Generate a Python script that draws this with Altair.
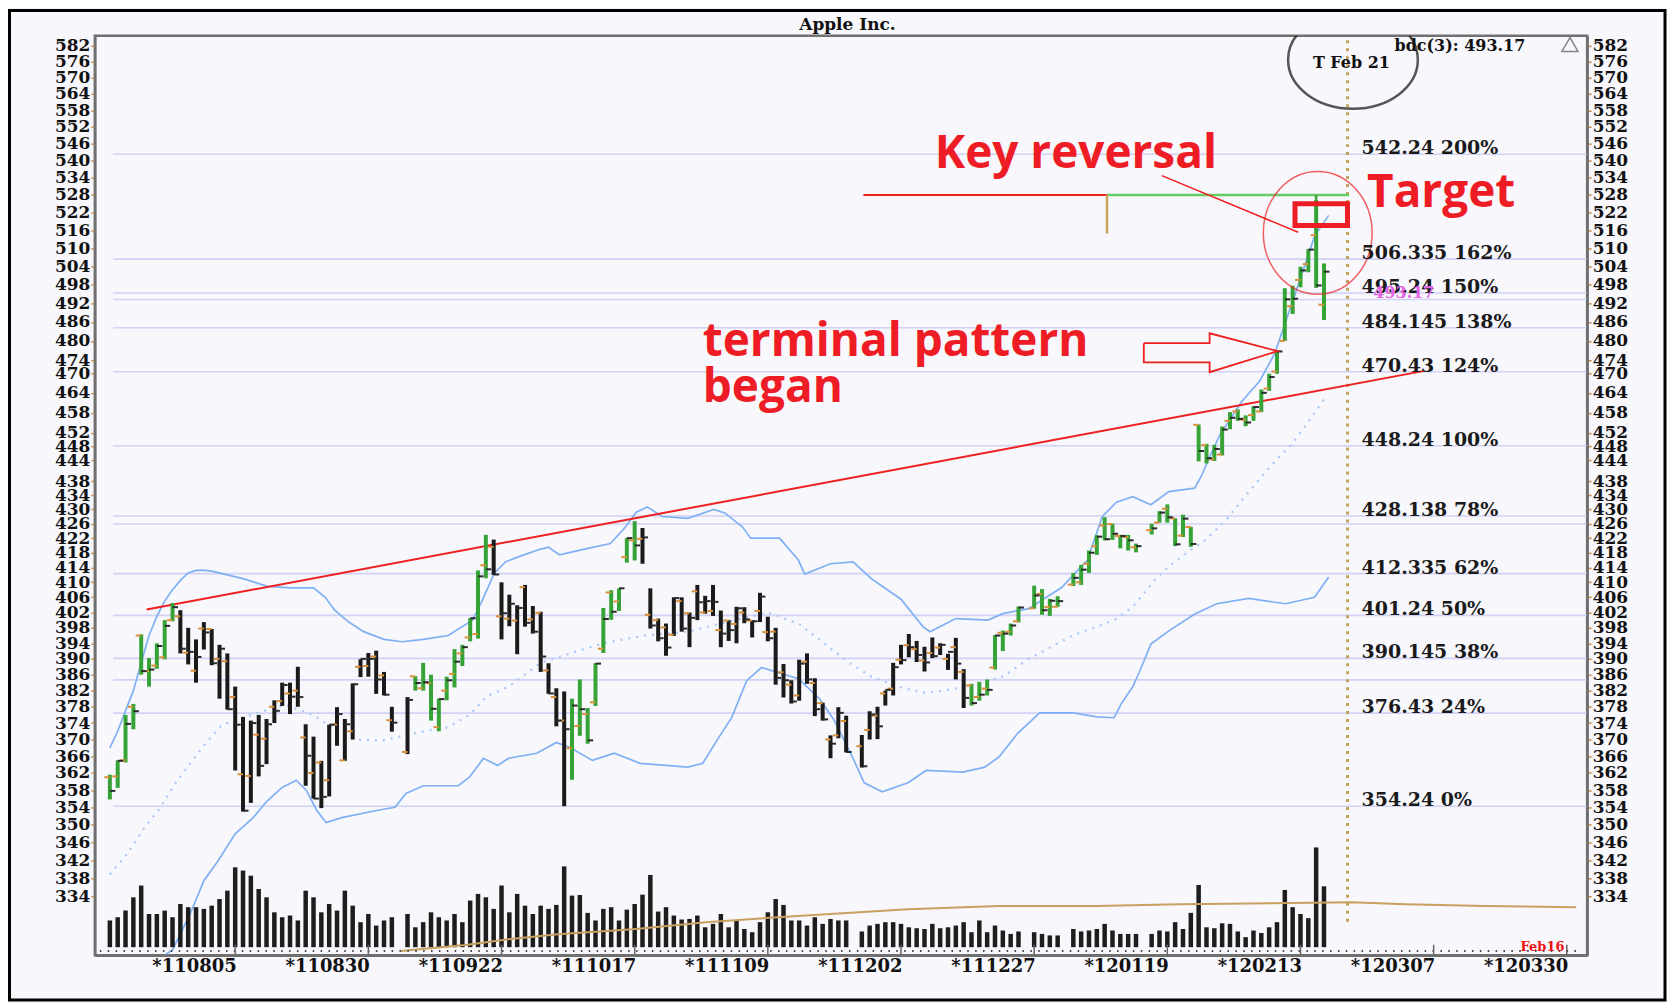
import altair as alt
import numpy as np
import pandas as pd

# ---------------- data ----------------
first_day = "2011-07-14"
last_day = "2012-02-16"
holidays = ["2011-09-05", "2011-11-24", "2011-12-26", "2012-01-02", "2012-01-16"]
anchor_day = "2011-08-05"

opens = [361.0, 361.2, 365.0, 378.0, 396.0, 386.9, 388.3, 390.4, 400.0, 401.0, 391.6, 387.0,
         397.8, 397.7, 390.0, 389.4, 380.4, 361.7, 361.3, 371.2, 370.2, 378.0, 379.4, 381.3, 382.0, 370.5, 362.0, 364.5, 360.3, 373.6, 365.0, 372.0, 388.0, 388.2, 390.6,
         385.8, 374.7, 367.0, 385.6, 382.6, 383.9, 373.0, 382.0, 386.2, 391.4, 395.5, 396.4, 414.6, 419.6, 401.0, 400.4, 399.9, 408.7, 400.2, 401.9, 387.1,
         380.4, 374.6, 367.9, 373.3, 376.2, 379.1, 392.6, 407.3, 404.9, 416.8, 421.4, 421.8, 401.4, 400.0, 398.1, 396.2, 405.0, 401.8, 407.6, 402.0, 402.4,
         397.4, 399.9, 399.0, 402.0, 399.9, 402.4, 396.9, 397.0, 386.6, 383.5, 380.8, 389.3, 383.9, 378.9, 370.0, 371.0, 374.5, 368.4, 372.3, 375.8, 381.3,
         382.5, 389.8, 393.5, 392.5, 389.6, 391.5, 392.9, 390.0, 393.0, 386.7, 383.3, 380.4, 382.5, 387.8, 396.7, 397.0, 399.7, 403.1, 406.9, 403.4, 403.5,
         409.4, 410.0, 415.0, 419.8, 425.5, 425.9, 422.6, 422.3, 419.5, 424.2, 426.3, 430.2, 427.5, 422.7, 425.1, 454.4, 448.4, 444.3, 445.7, 455.6,
         458.4, 455.9, 457.3, 458.4, 465.3, 470.5, 480.0, 491.0, 499.5, 504.7, 514.3, 491.5]
highs = [361.6, 365.0, 376.0, 378.7, 396.3, 390.2, 394.0, 400.0, 404.5, 402.6, 398.0, 395.0,
         399.5, 397.7, 393.6, 391.4, 383.0, 375.5, 374.6, 376.0, 375.0, 379.6, 384.0, 384.0, 388.0, 373.7, 370.7, 364.9, 373.6, 377.9, 375.0, 383.8, 389.9, 391.5, 392.1,
         386.7, 378.0, 380.4, 385.6, 389.0, 386.0, 380.0, 385.5, 392.5, 393.6, 400.5, 413.2, 422.9, 421.6, 410.0, 406.7, 403.9, 409.3, 403.7, 402.2, 388.9,
         382.6, 381.8, 380.0, 384.8, 377.7, 388.9, 403.2, 407.9, 408.4, 422.0, 426.7, 424.8, 408.4, 400.4, 399.1, 406.0, 406.0, 402.0, 409.3, 406.4, 409.3,
         402.5, 400.0, 403.5, 403.4, 400.0, 407.2, 400.9, 398.0, 388.7, 384.6, 389.8, 391.4, 385.1, 379.0, 371.0, 377.9, 375.8, 371.1, 376.9, 378.0, 382.0,
         389.0, 393.6, 396.4, 394.6, 393.1, 395.5, 394.0, 391.3, 395.4, 387.4, 383.7, 384.2, 384.8, 396.1, 397.3, 399.1, 403.6, 409.1, 408.2, 405.6, 406.3,
         412.5, 414.7, 418.6, 422.8, 427.8, 426.0, 422.9, 422.9, 420.5, 426.0, 429.5, 431.4, 427.5, 428.5, 425.1, 454.5, 448.8, 448.5, 453.9, 458.2,
         459.0, 457.2, 460.0, 465.0, 469.8, 476.8, 496.8, 497.6, 503.8, 509.6, 526.3, 504.9]
lows = [355.8, 358.5, 364.5, 372.5, 386.0, 383.0, 387.5, 389.9, 399.7, 391.4, 388.6, 384.0,
        392.4, 388.4, 380.0, 377.3, 362.6, 353.0, 355.0, 361.2, 364.1, 374.0, 378.2, 376.2, 378.0, 359.0, 356.0, 353.8, 356.5, 368.5, 364.9, 370.0, 385.4, 385.5, 381.2,
        380.8, 371.9, 366.5, 382.0, 382.0, 374.6, 372.0, 379.6, 382.8, 388.2, 394.5, 395.2, 411.1, 412.0, 395.0, 398.4, 391.2, 398.3, 396.5, 386.7, 381.2,
        373.2, 354.24, 360.4, 370.9, 369.0, 378.2, 391.5, 400.1, 402.4, 415.3, 415.9, 415.0, 397.8, 394.5, 390.8, 395.9, 397.0, 393.0, 400.0, 401.7, 401.1,
        393.0, 394.6, 394.0, 399.2, 395.5, 399.5, 394.5, 383.5, 380.3, 378.8, 379.5, 383.7, 375.7, 374.6, 365.5, 370.3, 366.9, 363.3, 370.0, 370.1, 378.3,
        380.8, 388.6, 390.4, 389.2, 386.8, 390.2, 391.0, 387.2, 384.8, 377.7, 378.3, 379.5, 380.8, 387.3, 392.0, 396.0, 399.4, 403.0, 401.4, 401.1, 403.5,
        409.0, 409.3, 412.5, 417.4, 421.4, 421.5, 419.2, 418.6, 418.1, 423.0, 426.3, 426.3, 419.8, 422.3, 419.6, 443.7, 443.1, 443.8, 445.4, 453.1,
        455.6, 454.0, 455.6, 458.2, 464.6, 469.8, 480.0, 488.5, 497.1, 502.0, 496.9, 486.6]
closes = [357.8, 364.9, 373.8, 376.9, 386.9, 387.3, 393.3, 398.5, 403.4, 392.6, 391.8, 390.5,
          396.8, 388.9, 392.6, 377.4, 373.6, 353.2, 374.0, 363.7, 373.7, 377.0, 383.4, 380.5, 380.4, 366.1, 356.0, 356.4, 373.6, 376.2, 373.7, 383.6, 390.0, 390.0, 384.8,
          381.0, 374.1, 379.7, 383.9, 384.1, 377.5, 379.9, 384.6, 389.3, 393.0, 400.5, 411.6, 413.5, 412.1, 401.8, 404.3, 403.2, 399.3, 397.0, 390.6, 381.3,
          374.6, 372.5, 378.3, 377.4, 369.8, 388.8, 400.3, 402.2, 408.4, 422.0, 420.0, 422.2, 398.6, 395.3, 392.9, 405.8, 397.8, 400.6, 404.7, 405.0, 404.8,
          396.5, 397.4, 403.1, 400.2, 399.7, 406.2, 395.3, 385.2, 384.6, 379.3, 388.8, 384.8, 377.4, 374.9, 369.0, 376.5, 367.0, 363.6, 376.1, 373.2, 382.2,
          387.9, 389.7, 393.0, 391.0, 389.1, 390.7, 393.6, 391.8, 388.8, 380.2, 378.9, 381.0, 382.2, 396.0, 396.5, 398.6, 403.3, 406.5, 402.6, 405.1, 405.0,
          411.2, 413.4, 418.0, 422.4, 421.7, 423.2, 422.6, 421.4, 419.8, 424.7, 429.1, 427.8, 420.3, 427.4, 420.4, 446.7, 444.6, 447.3, 453.0, 456.5,
          456.2, 455.1, 459.7, 464.0, 468.8, 476.7, 493.2, 493.4, 502.6, 509.5, 497.7, 502.2]
volumes = [14.1, 15.8, 19.3, 26.3, 32.5, 17.5, 17.5, 19.3, 15.8, 22.8, 21.1, 21.1,
           20.2, 21.9, 25.4, 29.8, 42.1, 40.4, 37.7, 30.7, 26.3, 18.4, 15.8, 16.7, 14.1, 29.8, 26.3, 18.4, 22.8, 19.3, 29.8, 21.9, 13.2, 17.5, 11.4,
           14.1, 15.8, 17.5, 10.5, 13.2, 18.4, 15.8, 14.1, 17.5, 13.2, 24.6, 28.1, 26.3, 20.2, 32.5, 18.4, 28.1, 21.9, 17.5, 21.9, 20.2,
           22.3, 42.6, 27.2, 27.5, 18.1, 14.1, 20.2, 21.1, 14.1, 19.8, 22.8, 27.7, 38.1, 18.8, 21.1, 16.7, 14.6, 14.9, 16.7, 10.5, 12.3,
           17.5, 10.5, 14.1, 9.6, 7.9, 13.2, 18.4, 25.4, 22.3, 14.1, 14.1, 11.4, 15.8, 12.3, 14.9, 14.1, 14.1, 8.3, 11.4, 12.3, 13.2,
           13.2, 12.3, 10.5, 10.0, 9.6, 12.3, 10.0, 10.5, 11.4, 13.2, 7.9, 14.1, 7.9, 11.4, 8.8, 7.0, 8.3, 7.9, 7.0, 6.2, 6.2,
           9.6, 8.3, 8.8, 9.6, 12.3, 8.8, 7.0, 7.0, 7.0, 7.0, 8.8, 8.3, 13.2, 9.6, 18.1, 32.8, 10.5, 10.0, 12.6, 12.3,
           8.3, 5.3, 8.8, 7.5, 10.5, 13.2, 30.2, 21.1, 17.5, 15.3, 52.6, 32.1]
up_periods = [("2011-07-14", "2011-07-26"), ("2011-09-07", "2011-09-20"),
              ("2011-10-05", "2011-10-17"), ("2011-12-15", "2012-02-16")]

upper_band = [(-16, 368), (-15, 372), (-14, 377), (-13, 382), (-12, 389), (-11, 396), (-10, 401), (-9, 405),
              (-8, 408), (-7, 410.5), (-6, 412.5), (-5, 413.2), (-4, 413.3), (-3, 413), (-1, 412), (1, 411),
              (4, 409), (7, 408.5), (10, 408.5), (11.5, 406), (12.7, 402.6), (14.5, 399.5), (16.4, 397),
              (19, 395), (21.3, 394.4), (24, 395), (27.2, 396), (30.3, 400), (31.5, 405), (33.1, 412.5),
              (34.5, 415.5), (36.3, 417), (39, 419), (40, 419.5), (41.4, 417.4), (44.6, 419), (47.9, 420.5),
              (49.8, 425), (51.2, 429.2), (52.6, 430.7), (54.5, 428), (57.8, 427.5), (61.1, 430), (62.5, 429),
              (64.8, 425), (65.8, 422), (69.5, 422), (71.9, 416), (72.7, 412.2), (76, 415), (78.9, 415.5),
              (81.2, 411), (85, 405.5), (87.8, 398.3), (88.7, 397), (92, 400.4), (96.1, 400), (98, 401.7),
              (101.3, 403), (105.5, 408.6), (108.8, 416), (110.7, 428), (112.5, 432), (114.6, 433.6),
              (116.9, 431.3), (119.2, 435), (122.5, 436), (123.4, 439.7), (124.3, 444.5), (125.7, 451.4),
              (128.5, 461.4), (130.8, 467.6), (132.7, 476), (134.1, 486), (136, 500), (137.8, 514), (139.6, 521)]
lower_band = [(-16, 300), (-12, 310), (-9.4, 321), (-8, 322.5), (-5.8, 330), (-4, 337.4), (-2.2, 341.8),
              (0, 347.9), (2.3, 351.6), (4.1, 355.5), (6, 358.6), (7.8, 360.3), (9.1, 357.9), (10.4, 353.3),
              (11.6, 350.5), (13.6, 351.6), (18.2, 353.3), (20.4, 354), (21.8, 357.2), (24, 359), (28.5, 359),
              (29.9, 361), (31.7, 365.5), (33.5, 363.8), (34.9, 365.5), (38.5, 366.7), (41, 369.3), (42.8, 368),
              (45.6, 365), (48.4, 366.7), (51.7, 364.3), (57.8, 363.4), (59.7, 364.3), (61.5, 369.8),
              (63.4, 375.4), (65.3, 384.5), (67.2, 387.8), (71.9, 385), (74.6, 380), (76.5, 374.6),
              (78.8, 365.8), (80.3, 359.7), (82.6, 357.6), (85.9, 359.7), (88.2, 362.6), (92.9, 362.2),
              (95.7, 363.4), (97.5, 365.8), (99.9, 371.5), (102.7, 376.5), (107, 376.5), (110, 375.5),
              (112.2, 375.3), (113.2, 379), (114.6, 383), (115.5, 387), (116.9, 393.8), (119.2, 397.2),
              (122.5, 401.6), (125.3, 404.3), (129.4, 405.7), (134.1, 404.3), (137.8, 406), (139.6, 411.4)]
middle_band = [(-16, 338.8), (-13.7, 343.6), (-11.7, 349), (-9.6, 353.8), (-7.7, 359.4), (-5.8, 364.2),
               (-3.5, 369.7), (-1.7, 373.5), (0.9, 375.3), (3.7, 377), (6.4, 378.5), (10.1, 375.8),
               (12.7, 372.5), (15.9, 370), (18.6, 369.7), (22.2, 371.2), (24.9, 372.3), (27.2, 373),
               (29.9, 376), (32.2, 380.7), (34.9, 383), (39, 389), (43.7, 392), (47, 394), (52.2, 396),
               (57.8, 397), (63.8, 400), (68, 402), (72, 399), (75.8, 393), (78.4, 389), (81.2, 385.5),
               (85, 382.8), (88.2, 381.4), (92.9, 382.8), (98, 385.5), (101.3, 390), (106.9, 396),
               (112.2, 400), (114.6, 403.5), (117.4, 410.6), (119.2, 414.3), (122, 418.8), (123.9, 421.5),
               (126.6, 427.3), (129.4, 435), (132.2, 442.3), (135, 449), (136.9, 455), (139.2, 462.8)]
volume_avg = [(21.1, -2), (29.4, 1.2), (34.9, 4.2), (41.2, 6.8), (50.8, 9.5), (60.1, 13.2), (71.8, 16.5),
              (85.9, 20), (97.5, 21.7), (109.9, 21.7), (120.6, 22.6), (142.5, 23.7), (149.4, 22.6),
              (159.6, 21.7), (171.2, 21.1)]

fib_values = [542.24, 506.335, 495.24, 484.145, 470.43, 448.24, 428.138, 412.335, 401.24, 390.145, 376.43, 354.24]
fib_labels = ["542.24 200%", "506.335 162%", "495.24 150%", "484.145 138%", "470.43 124%", "448.24 100%",
              "428.138 78%", "412.335 62%", "401.24 50%", "390.145 38%", "376.43 24%", "354.24 0%"]
extra_levels = [493.17, 425.9, 384.7]

axis_ticks = [582, 576, 570, 564, 558, 552, 546, 540, 534, 528, 522, 516, 510, 504, 498, 492, 486, 480, 474,
              470, 464, 458, 452, 448, 444, 438, 434, 430, 426, 422, 418, 414, 410, 406, 402, 398, 394, 390,
              386, 382, 378, 374, 370, 366, 362, 358, 354, 350, 346, 342, 338, 334]
tick_dates = ["2011-08-05", "2011-08-30", "2011-09-22", "2011-10-17", "2011-11-09", "2011-12-02",
              "2011-12-27", "2012-01-19", "2012-02-13", "2012-03-07", "2012-03-30"]
tick_labels = ["*110805", "*110830", "*110922", "*111017", "*111109", "*111202",
               "*111227", "*120119", "*120213", "*120307", "*120330"]

trend_line = [(-11.3, 402.8), (151.8, 470.7)]
target_red = [(80.2, 528.0), (111.3, 528.0)]
target_green = [(111.3, 528.0), (142.2, 528.0)]
arrow_outline = [(116.0, 479.3), (124.4, 479.3), (124.4, 482.4), (133.1, 476.8), (124.4, 470.3),
                 (124.4, 473.3), (116.0, 473.3), (116.0, 479.3)]
pointer_line = [(118.3, 534.7), (135.7, 515.3)]
box = (135.3, 142.0, 517.6, 525.0)
today_idx = 142
notes = [("Key reversal", 89.3, 537.2), ("Target", 144.5, 524.0),
         ("terminal pattern", 59.7, 475.3), ("began", 59.7, 461.2)]
title_text = "Apple Inc."

# ---------------- frames ----------------
d = pd.bdate_range(first_day, last_day)
d = d[~d.isin(pd.to_datetime(holidays))]
day64 = d.values.astype("datetime64[D]")
idx = np.busday_count(np.datetime64(anchor_day), day64)
trend = np.array(["down"] * len(d), dtype=object)
for a, b in up_periods:
    trend[(d >= pd.Timestamp(a)) & (d <= pd.Timestamp(b))] = "up"
bars = pd.DataFrame({"idx": idx, "open": opens, "high": highs, "low": lows, "close": closes,
                     "vol": volumes, "trend": trend})

tick_idx = [int(np.busday_count(np.datetime64(anchor_day), np.datetime64(t))) for t in tick_dates]
label_expr = "[" + ",".join("'%s'" % t for t in tick_labels) + "][round(datum.value/17)]"

XMIN, XMAX = -17.28, 171.96
XS = alt.Scale(domain=[XMIN, XMAX], nice=False, zero=False)
PS = alt.Scale(type="log", domain=[321.4, 585.8], nice=False)
VS = alt.Scale(domain=[0, 60], range=[913, 799], nice=False)

SERIF = "DejaVu Serif"
x_axis = alt.Axis(values=tick_idx, labelExpr=label_expr, title=None, grid=False, tickSize=0,
                  labelFont=SERIF, labelFontWeight="bold", labelFontSize=18, labelColor="#111111",
                  labelAlign="right", labelOffset=1, labelPadding=2, labelOverlap=False, labelFlush=False,
                  domainColor="#707070", domainWidth=2.5, zindex=1)


def X(f):
    return alt.X(f, type="quantitative", scale=XS, axis=x_axis)


def Y(f, axis=None, scale=PS):
    return alt.Y(f, type="quantitative", scale=scale, axis=axis)


def y_axis(side):
    return alt.Axis(orient=side, values=axis_ticks, format="d", title=None, grid=False,
                    labelFont=SERIF, labelFontWeight="bold", labelFontSize=17, labelColor="#111111",
                    labelOverlap=False, labelPadding=1, tickColor="#c8904a", tickSize=4, tickWidth=1.5,
                    domainColor="#707070", domainWidth=2.5, zindex=1)


one = pd.DataFrame({"k": [0]})

outer = alt.Chart(one).mark_rect(fill="transparent", stroke="black", strokeWidth=3).encode(
    x=alt.value(-85.5), x2=alt.value(1573), y=alt.value(-25.5), y2=alt.value(966))
title = alt.Chart(pd.DataFrame({"t": [title_text]})).mark_text(
    align="center", baseline="middle", font=SERIF, fontSize=17, fontWeight="bold", color="#111111").encode(
    x=alt.value(754), y=alt.value(-11), text="t:N")

levels = pd.DataFrame({"level": fib_values + extra_levels, "x0": -15.6, "x1": 180})
fib = alt.Chart(levels).mark_rule(color="#d2d2f6", strokeWidth=1.6, clip=True).encode(
    x=X("x0"), x2="x1", y=Y("level", y_axis("left")))


def band(pairs, **kw):
    df = pd.DataFrame(pairs, columns=["i", "v"])
    return alt.Chart(df).mark_line(clip=True, **kw).encode(x=X("i"), y=Y("v"))


upper = band(upper_band, color="#7fb0f4", strokeWidth=1.7)
lower = band(lower_band, color="#7fb0f4", strokeWidth=1.7)
middle = band(middle_band, color="#a9c7f3", strokeWidth=2.2, strokeDash=[2, 6])

vol = alt.Chart(bars).mark_bar(width=4.5, color="#1d1d1d").encode(x=X("idx"), y=Y("vol", scale=VS))
vol_avg_df = pd.DataFrame(volume_avg, columns=["i", "v"])
vol_avg = alt.Chart(vol_avg_df).mark_line(color="#c8a060", strokeWidth=2, clip=True).encode(
    x=X("i"), y=Y("v", scale=VS))

base_dots = alt.Chart(pd.DataFrame({"a": [XMIN], "b": [XMAX], "y": [322.3]})).mark_rule(
    color="#444444", strokeWidth=2, strokeDash=[1.5, 6.4]).encode(x=X("a"), x2="b", y=Y("y"))
dticks = alt.Chart(pd.DataFrame({"i": tick_idx, "y0": 321.4, "y1": 323.6})).mark_rule(
    color="#666666", strokeWidth=1.5).encode(x=X("i"), y=Y("y0"), y2="y1")

trend_df = pd.DataFrame(trend_line, columns=["i", "v"])
trendl = alt.Chart(trend_df).mark_line(color="#ee2020", strokeWidth=2, clip=True).encode(x=X("i"), y=Y("v"))

red_h = alt.Chart(pd.DataFrame(target_red, columns=["i", "v"])).mark_line(color="#ee2020", strokeWidth=2).encode(
    x=X("i"), y=Y("v"))
green_h = alt.Chart(pd.DataFrame(target_green, columns=["i", "v"])).mark_line(color="#66cc66", strokeWidth=2.5).encode(
    x=X("i"), y=Y("v"))
green_v = alt.Chart(pd.DataFrame({"i": [138], "a": [526.3], "b": [528.0]})).mark_rule(
    color="#3aa53a", strokeWidth=2.5).encode(x=X("i"), y=Y("a"), y2="b")
tan_v = alt.Chart(pd.DataFrame({"i": [111.3], "a": [514.9], "b": [528.0]})).mark_rule(
    color="#c8a060", strokeWidth=2.5).encode(x=X("i"), y=Y("a"), y2="b")

today = alt.Chart(pd.DataFrame({"i": [today_idx], "a": [328.5], "b": [585.8]})).mark_rule(
    color="#c8a060", strokeWidth=3, strokeDash=[3, 5]).encode(x=X("i"), y=Y("a"), y2="b")

ohlc = alt.Chart(bars).mark_rule(strokeWidth=4).encode(
    x=X("idx"), y=Y("low", y_axis("right")), y2="high",
    color=alt.Color("trend:N", scale=alt.Scale(domain=["up", "down"], range=["#36a336", "#1a1a1a"]), legend=None))
open_t = alt.Chart(bars).transform_calculate(xa="datum.idx - 0.7").mark_rule(
    color="#d8903a", strokeWidth=2).encode(x=X("xa"), x2="idx", y=Y("open"))
close_t = alt.Chart(bars).transform_calculate(xb="datum.idx + 0.7").mark_rule(
    color="#2a2a2a", strokeWidth=2).encode(x=X("idx"), x2="xb", y=Y("close"))

arrow_df = pd.DataFrame(arrow_outline, columns=["i", "v"])
arrow_df["o"] = range(len(arrow_df))
arrow = alt.Chart(arrow_df).mark_line(color="#ee2020", strokeWidth=1.8).encode(
    x=X("i"), y=Y("v"), order="o:Q")
pointer = alt.Chart(pd.DataFrame(pointer_line, columns=["i", "v"])).mark_line(
    color="#ee2020", strokeWidth=1.5).encode(x=X("i"), y=Y("v"))
boxm = alt.Chart(pd.DataFrame({"a": [box[0]], "b": [box[1]], "c": [box[2]], "e": [box[3]]})).mark_rect(
    fill="transparent", stroke="#ee1c25", strokeWidth=5).encode(x=X("a"), x2="b", y=Y("c"), y2="e")

ell_red = alt.Chart(pd.DataFrame({"i": [138.2], "v": [515.1]})).mark_point(
    shape="M -0.886,0 A 0.886,1 0 1,1 0.886,0 A 0.886,1 0 1,1 -0.886,0 Z",
    size=15129, filled=False, color="#ee2020", strokeWidth=1.5).encode(x=X("i"), y=Y("v"))
ell_black = alt.Chart(pd.DataFrame({"i": [142.7], "v": [576.7]})).mark_point(
    shape="M -1,0 A 1,0.754 0 1,1 1,0 A 1,0.754 0 1,1 -1,0 Z",
    size=16900, filled=False, color="#111111", strokeWidth=2.5, clip=True).encode(x=X("i"), y=Y("v"))

fib_txt = alt.Chart(pd.DataFrame({"i": 143.8, "v": fib_values, "t": fib_labels})).mark_text(
    align="left", baseline="middle", dy=-6, font=SERIF, fontSize=19, fontWeight="bold", color="#1a1a1a").encode(
    x=X("i"), y=Y("v"), text="t:N")

notes_df = pd.DataFrame(notes, columns=["t", "i", "v"])
note_txt = alt.Chart(notes_df).mark_text(
    align="left", baseline="alphabetic", font="Open Sans", fontSize=46, fontWeight="bold", color="#ee1c25").encode(
    x=X("i"), y=Y("v"), text="t:N")

small = pd.DataFrame({"t": ["T Feb 21"], "i": [142.5], "v": [575.6]})
tfeb = alt.Chart(small).mark_text(align="center", baseline="middle", font=SERIF, fontSize=16,
                                  fontWeight="bold", color="#111111").encode(x=X("i"), y=Y("v"), text="t:N")
bdc = alt.Chart(pd.DataFrame({"t": ["bdc(3): 493.17"], "i": [148.0], "v": [582.0]})).mark_text(
    align="left", baseline="middle", font=SERIF, fontSize=16, fontWeight="bold", color="#111111").encode(
    x=X("i"), y=Y("v"), text="t:N")
warn = alt.Chart(pd.DataFrame({"i": [170.4], "v": [582.5]})).mark_point(
    shape="triangle-up", size=260, filled=False, color="#555555", strokeWidth=1.5).encode(x=X("i"), y=Y("v"))
pink = alt.Chart(pd.DataFrame({"t": ["493.17"], "i": [145.3], "v": [495.2]})).mark_text(
    align="left", baseline="middle", font=SERIF, fontSize=16, fontWeight="bold", color="#e464e4").encode(
    x=X("i"), y=Y("v"), text="t:N")
feb16 = alt.Chart(pd.DataFrame({"t": ["Feb16"], "i": [164.1], "v": [323.2]})).mark_text(
    align="left", baseline="middle", font=SERIF, fontSize=13, fontWeight="bold", color="#ee1010").encode(
    x=X("i"), y=Y("v"), text="t:N")

chart = alt.layer(
    outer, title, fib, lower, upper, middle, vol, vol_avg, base_dots, dticks, today, trendl,
    red_h, green_h, tan_v, ohlc, green_v, open_t, close_t, arrow, pointer, boxm, ell_red, ell_black,
    fib_txt, note_txt, tfeb, bdc, warn, pink, feb16
).resolve_scale(y="independent").properties(
    width=1495, height=921, padding=0, background="#f7f7fc"
).configure_view(stroke="#707070", strokeWidth=2.5)

chart.save("out.html", embed_options={"renderer": "svg", "actions": False})
